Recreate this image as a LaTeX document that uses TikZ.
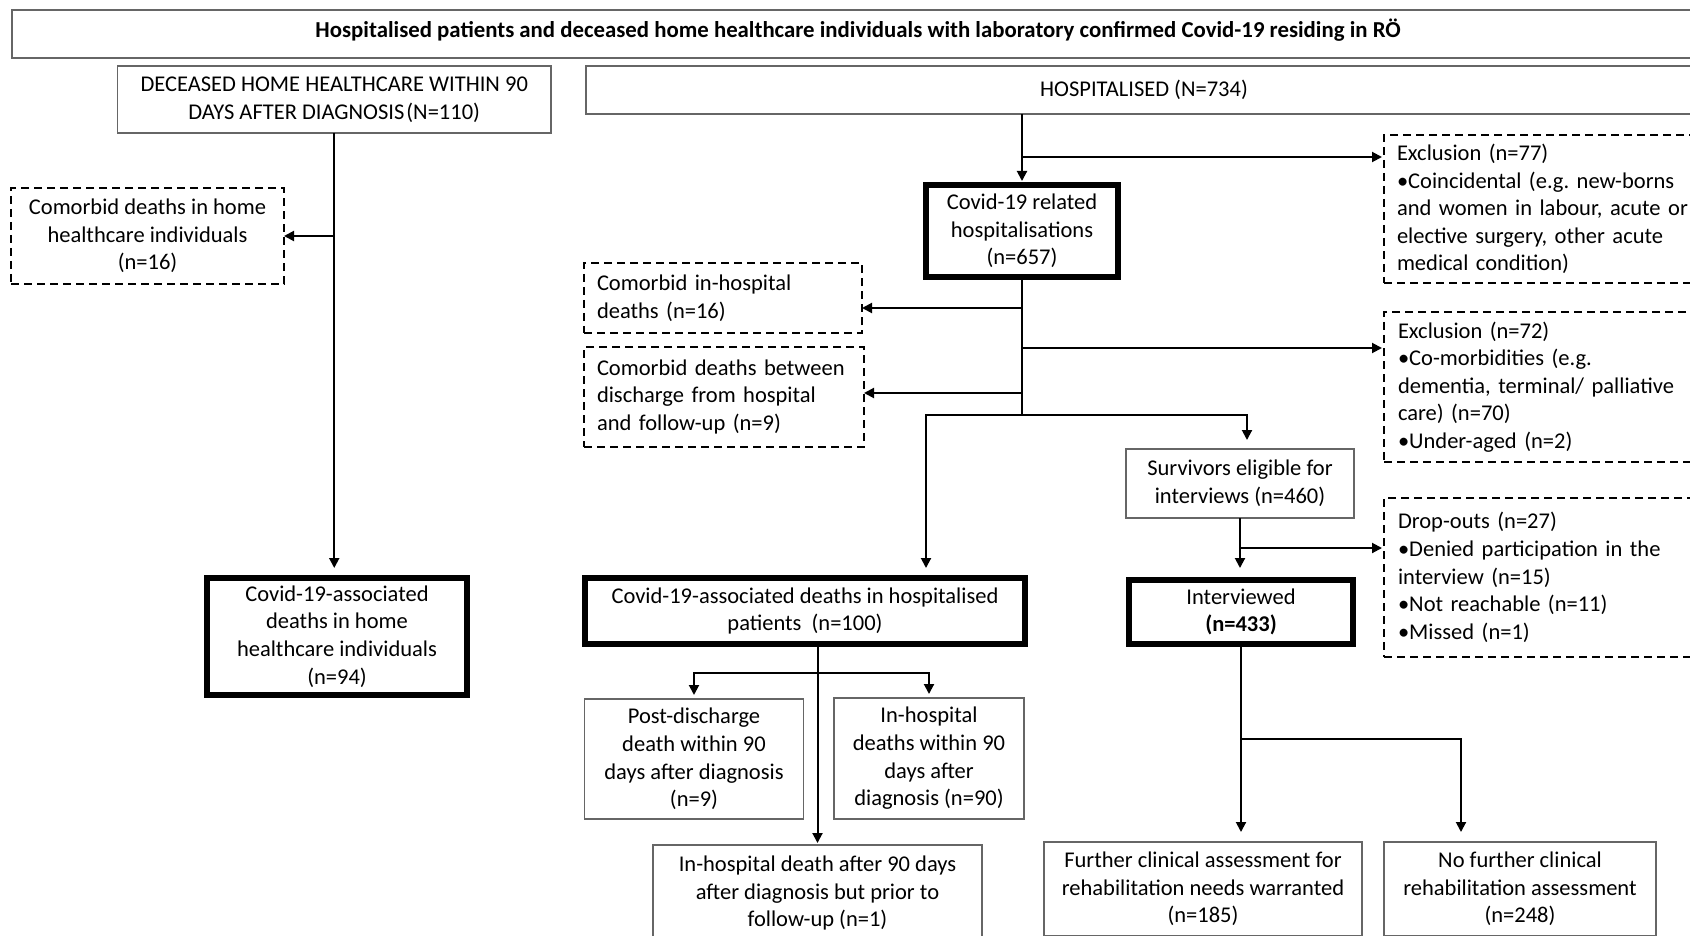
\documentclass[tikz,border=0pt]{standalone}
\usepackage{fontspec}
\setmainfont{Carlito}
\usetikzlibrary{arrows.meta,calc}
\begin{document}
\frenchspacing
\begin{tikzpicture}[x=1pt,y=-1pt,
  every node/.style={font=\fontsize{22.5}{27.6}\selectfont\frenchspacing, inner sep=0pt, outer sep=0pt},
  gbox/.style={draw=black!60, line width=1.4pt, rectangle, align=center},
  tbox/.style={draw=black, line width=6pt, rectangle, align=center},
  dbox/.style={draw=black, line width=1.5pt, dash pattern=on 8pt off 5pt, rectangle, align=left},
  arr/.style={line width=2pt, -{Triangle[length=10pt,width=10pt]}},
  ln/.style={line width=2pt}
]
\useasboundingbox (0,0) rectangle (1690,936);
\fill[white] (0,0) rectangle (1690,936);
\clip (0,0) rectangle (1690,936);

\node[gbox, minimum width=1692, minimum height=48, text depth=11pt] (title) at (858,34)
  {\fontsize{22.8}{26}\selectfont\bfseries Hospitalised patients and deceased home healthcare individuals with laboratory confirmed Covid-19 residing in RÖ};
\node[gbox, minimum width=433.5, minimum height=67] (deceased) at (334.25,99.5)
  {DECEASED HOME HEALTHCARE WITHIN 90\\DAYS AFTER DIAGNOSIS\kern2pt(N=110)};
\node[gbox, minimum width=1116, minimum height=48] (hosp) at (1144,90) {HOSPITALISED (N=734)};
\node[dbox, align=center, minimum width=273, minimum height=96] (comhome) at (147.5,236)
  {Comorbid deaths in home\\healthcare individuals\\(n=16)};
\node[tbox, minimum width=192, minimum height=92] (covrel) at (1022,231)
  {Covid-19 related\\hospitalisations\\(n=657)};
\node[dbox, text width=310, inner xsep=13, minimum height=148] (excl77) at (1552,209)
  {Exclusion (n=77)\\•Coincidental (e.g. new-borns\\and women in labour, acute or\\elective surgery, other acute\\medical condition)};
\node[dbox, text width=252, inner xsep=13, minimum height=70] (cinh) at (723,298)
  {Comorbid in-hospital\\deaths (n=16)};
\node[dbox, text width=254, inner xsep=13, minimum height=100] (cbet) at (724,397)
  {Comorbid deaths between\\discharge from hospital\\and follow-up (n=9)};
\node[dbox, text width=308, inner xsep=14, minimum height=150] (excl72) at (1552,387)
  {Exclusion (n=72)\\•Co-morbidities (e.g.\\dementia, terminal/ palliative\\care) (n=70)\\•Under-aged (n=2)};
\node[gbox, minimum width=228, minimum height=69] (surv) at (1240,483.5)
  {Survivors eligible for\\interviews (n=460)};
\node[dbox, text width=308, inner xsep=14, minimum height=159] (drop) at (1552,577.5)
  {Drop-outs (n=27)\\•Denied participation in the\\interview (n=15)\\•Not reachable (n=11)\\•Missed (n=1)};
\node[tbox, minimum width=260, minimum height=117] (homeas) at (337,636.5)
  {Covid-19-associated\\deaths in home\\healthcare individuals\\(n=94)};
\node[tbox, minimum width=440, minimum height=66] (hospas) at (805,611)
  {Covid-19-associated deaths in hospitalised\\patients\ \ (n=100)};
\node[tbox, minimum width=224, minimum height=64] (interv) at (1241,612)
  {Interviewed\\\textbf{(n=433)}};
\node[gbox, minimum width=218.5, minimum height=120] (postd) at (694,759)
  {Post-discharge\\death within 90\\days after diagnosis\\(n=9)};
\node[gbox, minimum width=190, minimum height=121] (inhd) at (929,758.5)
  {In-hospital\\deaths within 90\\days after\\diagnosis (n=90)};
\node[gbox, minimum width=329, minimum height=96] (after) at (817.5,893)
  {In-hospital death after 90 days\\after diagnosis but prior to\\follow-up (n=1)};
\node[gbox, minimum width=318, minimum height=94] (further) at (1203,889)
  {Further clinical assessment for\\rehabilitation needs warranted\\(n=185)};
\node[gbox, minimum width=272, minimum height=94] (nofur) at (1520,889)
  {No further clinical\\rehabilitation assessment\\(n=248)};

% left column
\draw[arr, shorten >=10pt] (deceased.south) -- (deceased.south |- homeas.north);
\draw[arr] (deceased.south |- comhome.east) -- (comhome.east);

% hospitalised
\coordinate (h0) at (covrel.north |- hosp.south);
\draw[arr, shorten >=4pt] (h0) -- (covrel.north);
\coordinate (h1) at (1022,157);
\draw[arr, shorten >=2pt] (h1) -- (h1 -| excl77.west);

\coordinate (j) at (1022,415);
\draw[ln] (covrel.south) -- (j);
\coordinate (c1) at (1022,308);
\draw[arr] (c1) -- (c1 -| cinh.east);
\coordinate (c2) at (1022,348);
\draw[arr, shorten >=2pt] (c2) -- (c2 -| excl72.west);
\coordinate (c3) at (1022,393);
\draw[arr] (c3) -- (c3 -| cbet.east);
\coordinate (jl) at (926,415);
\coordinate (jr) at (1247,415);
\draw[arr, shorten >=10pt] (j) -- (jl) -- (jl |- hospas.north);
\draw[arr, shorten >=9pt] (j) -- (jr) -- (jr |- surv.north);

% survivors
\draw[arr, shorten >=12pt] (surv.south) -- (surv.south |- interv.north);
\coordinate (s1) at ($(surv.south)+(0,30)$);
\draw[arr, shorten >=2pt] (s1) -- (s1 -| drop.west);

% hospitalised deaths
\coordinate (p0) at (after.north |- hospas.south);
\draw[arr, shorten >=2pt] (p0) -- (after.north);
\coordinate (p1) at (817.5,673);
\draw[arr, shorten >=4pt] (p1) -| (postd.north);
\draw[arr, shorten >=4pt] (p1) -| (inhd.north);

% interviewed
\draw[arr, shorten >=10pt] (interv.south) -- (interv.south |- further.north);
\coordinate (i1) at (1241,739);
\coordinate (i2) at (1461,739);
\draw[arr, shorten >=10pt] (i1) -- (i2) -- (i2 |- nofur.north);
\end{tikzpicture}
\end{document}
